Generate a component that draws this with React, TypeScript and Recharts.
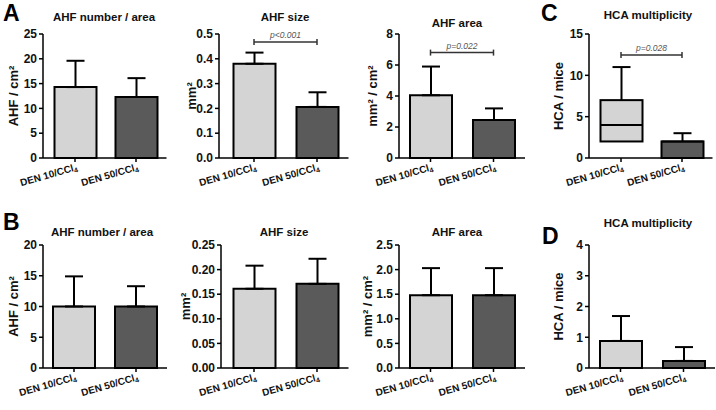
import React from "react";
import { Bar, BarChart, Cell, ErrorBar, ReferenceLine, XAxis, YAxis } from "recharts";

const FONT = "'Liberation Sans', Arial, Helvetica, sans-serif";

const groups = ["DEN 10/CCl4", "DEN 50/CCl4"];
const groupColors = ["#d4d4d4", "#5a5a5a"];

// row A (means and SD)
const ahfNumberA = [14.3, 12.3];
const ahfNumberSdA = [5.3, 3.8];
const ahfSizeA = [0.38, 0.206];
const ahfSizeSdA = [0.045, 0.059];
const ahfAreaA = [4.05, 2.45];
const ahfAreaSdA = [1.85, 0.75];

// C box plot
const hcaMin = [2, 0];
const hcaQ1 = [2, 0];
const hcaMedian = [4, 2];
const hcaQ3 = [7, 2];
const hcaMax = [11, 3];

// row B
const ahfNumberB = [10, 10];
const ahfNumberSdB = [4.9, 3.3];
const ahfSizeB = [0.161, 0.171];
const ahfSizeSdB = [0.047, 0.051];
const ahfAreaB = [1.48, 1.48];
const ahfAreaSdB = [0.55, 0.55];
const hcaMeanD = [0.88, 0.23];
const hcaSdD = [0.81, 0.45];

const ticksA1 = [0, 5, 10, 15, 20, 25];
const ticksA2 = [0, 0.1, 0.2, 0.3, 0.4, 0.5];
const ticksA3 = [0, 2, 4, 6, 8];
const ticksC = [0, 5, 10, 15];
const ticksB1 = [0, 5, 10, 15, 20];
const ticksB2 = [0, 0.05, 0.1, 0.15, 0.2, 0.25];
const ticksB3 = [0, 0.5, 1, 1.5, 2, 2.5];
const ticksD = [0, 1, 2, 3, 4];

const barRows = (mean: number[], sd: number[]) =>
  groups.map((name, i) => ({ name, mean: mean[i], err: [0, sd[i]] }));

const boxRows = groups.map((name, i) => ({
  name,
  box: [hcaQ1[i], hcaQ3[i]],
  min: hcaMin[i],
  median: hcaMedian[i],
  max: hcaMax[i],
}));

const XTick = (props: any) => {
  const { x, y, payload } = props;
  const s = String(payload.value);
  return (
    <g transform={`translate(${x + 3},${y + 6}) rotate(-16)`}>
      <text textAnchor="end" fontFamily={FONT} fontSize={10} fontWeight={700} fill="#111">
        {s.slice(0, -1)}
        <tspan fontSize={7} dy={2}>{s.slice(-1)}</tspan>
      </text>
    </g>
  );
};

const makeBracket = (text: string) => (props: any) => {
  const { x1, y1, x2 } = props;
  return (
    <g>
      <line x1={x1} y1={y1} x2={x2} y2={y1} stroke="#333" strokeWidth={1.5} />
      <line x1={x1} y1={y1 - 3} x2={x1} y2={y1 + 3} stroke="#333" strokeWidth={1.5} />
      <line x1={x2} y1={y1 - 3} x2={x2} y2={y1 + 3} stroke="#333" strokeWidth={1.5} />
      <text x={(x1 + x2) / 2} y={y1 - 4} textAnchor="middle" fontFamily={FONT} fontSize={8.5}
        fontStyle="italic" fill="#555">{text}</text>
    </g>
  );
};

const BoxShape = (props: any) => {
  const { x, y, width, height, payload, fill } = props;
  const [q1, q3] = payload.box;
  const ppu = height / (q3 - q1);
  const yv = (v: number) => y + (q3 - v) * ppu;
  const cx = x + width / 2;
  const cap = 9;
  return (
    <g stroke="#000" strokeWidth={2}>
      <line x1={cx} x2={cx} y1={yv(payload.max)} y2={y} />
      <line x1={cx - cap} x2={cx + cap} y1={yv(payload.max)} y2={yv(payload.max)} />
      {payload.min < q1 && <line x1={cx} x2={cx} y1={y + height} y2={yv(payload.min)} />}
      <rect x={x} y={y} width={width} height={height} fill={fill} />
      <line x1={x} x2={x + width} y1={yv(payload.median)} y2={yv(payload.median)} />
    </g>
  );
};

type PanelProps = {
  axisX: number;
  plotTop: number;
  zeroY: number;
  band: number;
  pad: number;
  data: any[];
  domainMax: number;
  ticks: number[];
  decimals: number;
  yLabel: string;
  labelDx: number;
  bracket?: { y: number; text: string };
  box?: boolean;
};

function Panel(p: PanelProps) {
  const axisW = 62;
  const width = axisW + p.pad + 2 * p.band + 8;
  const height = p.zeroY - p.plotTop + 12 + 44;
  const yLabel = (lp: any) => {
    const vb = lp.viewBox || { x: 0, y: 12, width: axisW, height: p.zeroY - p.plotTop };
    const cx = vb.x + vb.width - p.labelDx;
    const cy = vb.y + vb.height / 2;
    return (
      <text x={cx} y={cy} transform={`rotate(-90, ${cx}, ${cy})`} textAnchor="middle"
        dominantBaseline="central" fontFamily={FONT} fontSize={13} fontWeight={700} fill="#111">
        {p.yLabel}
      </text>
    );
  };
  const axisStyle = { stroke: "#000", strokeWidth: 1.5 };
  return (
    <div style={{ position: "absolute", left: p.axisX - axisW, top: p.plotTop - 12 }}>
      <BarChart width={width} height={height} data={p.data}
        margin={{ top: 12, right: 8, left: 0, bottom: 0 }}>
        <XAxis dataKey="name" height={44} padding={{ left: p.pad, right: 0 }} interval={0}
          tick={<XTick />} tickSize={4} axisLine={axisStyle} tickLine={axisStyle} />
        <YAxis width={axisW} domain={[0, p.domainMax]} ticks={p.ticks} interval={0}
          tickFormatter={(v: number) => v.toFixed(p.decimals)} tickSize={4}
          axisLine={axisStyle} tickLine={axisStyle}
          tick={{ fontFamily: FONT, fontSize: 12, fontWeight: 700, fill: "#111" }}
          label={{ value: p.yLabel, content: yLabel }} />
        {p.box ? (
          <Bar dataKey="box" barSize={42} shape={BoxShape} isAnimationActive={false}>
            {p.data.map((_, i) => <Cell key={i} fill={groupColors[i]} />)}
          </Bar>
        ) : (
          <Bar dataKey="mean" barSize={42} stroke="#000" strokeWidth={2} isAnimationActive={false}>
            {p.data.map((_, i) => <Cell key={i} fill={groupColors[i]} />)}
            <ErrorBar dataKey="err" direction="y" width={9} stroke="#000" strokeWidth={2}
              isAnimationActive={false} />
          </Bar>
        )}
        {p.bracket && (
          <ReferenceLine segment={[{ x: groups[0], y: p.bracket.y }, { x: groups[1], y: p.bracket.y }]}
            shape={makeBracket(p.bracket.text)} />
        )}
      </BarChart>
    </div>
  );
}

const Title = ({ x, y, text }: { x: number; y: number; text: string }) => (
  <div style={{ position: "absolute", left: x, top: y, transform: "translate(-50%, -50%)",
    whiteSpace: "nowrap", fontFamily: FONT, fontSize: 11.5, fontWeight: 700, color: "#111" }}>
    {text}
  </div>
);

const Letter = ({ x, y, text }: { x: number; y: number; text: string }) => (
  <div style={{ position: "absolute", left: x, top: y, fontFamily: FONT, fontSize: 23,
    lineHeight: "26px", fontWeight: 700, color: "#000" }}>
    {text}
  </div>
);

export default function App() {
  const rowA = { plotTop: 34, zeroY: 158 };
  const rowB = { plotTop: 245, zeroY: 368 };
  return (
    <div style={{ position: "absolute", left: 0, top: 0, width: 716, height: 410,
      background: "#fff", overflow: "hidden" }}>
      <Panel {...rowA} axisX={43} band={61} pad={1.5} data={barRows(ahfNumberA, ahfNumberSdA)}
        domainMax={25} ticks={ticksA1} decimals={0} yLabel="AHF / cm²" labelDx={30} />
      <Panel {...rowA} axisX={219} band={63} pad={3.5} data={barRows(ahfSizeA, ahfSizeSdA)}
        domainMax={0.5} ticks={ticksA2} decimals={1} yLabel="mm²" labelDx={28}
        bracket={{ y: 0.468, text: "p<0.001" }} />
      <Panel {...rowA} axisX={399} band={63} pad={0} data={barRows(ahfAreaA, ahfAreaSdA)}
        domainMax={8} ticks={ticksA3} decimals={0} yLabel="mm² / cm²" labelDx={27}
        bracket={{ y: 6.8, text: "p=0.022" }} />
      <Panel {...rowA} axisX={589} band={61} pad={1.5} data={boxRows} box
        domainMax={15} ticks={ticksC} decimals={0} yLabel="HCA / mice" labelDx={31}
        bracket={{ y: 12.45, text: "p=0.028" }} />

      <Panel {...rowB} axisX={43} band={62} pad={0} data={barRows(ahfNumberB, ahfNumberSdB)}
        domainMax={20} ticks={ticksB1} decimals={0} yLabel="AHF / cm²" labelDx={30} />
      <Panel {...rowB} axisX={221} band={63} pad={1.5} data={barRows(ahfSizeB, ahfSizeSdB)}
        domainMax={0.25} ticks={ticksB2} decimals={2} yLabel="mm²" labelDx={36} />
      <Panel {...rowB} axisX={399} band={63} pad={0} data={barRows(ahfAreaB, ahfAreaSdB)}
        domainMax={2.5} ticks={ticksB3} decimals={1} yLabel="mm² / cm²" labelDx={32} />
      <Panel {...rowB} axisX={589} band={63} pad={0} data={barRows(hcaMeanD, hcaSdD)}
        domainMax={4} ticks={ticksD} decimals={0} yLabel="HCA / mice" labelDx={31} />

      <Title x={104} y={17} text="AHF number / area" />
      <Title x={285} y={17} text="AHF size" />
      <Title x={457} y={23} text="AHF area" />
      <Title x={648} y={15} text="HCA multiplicity" />
      <Title x={102} y={232} text="AHF number / area" />
      <Title x={284} y={232} text="AHF size" />
      <Title x={457} y={232} text="AHF area" />
      <Title x={648} y={223} text="HCA multiplicity" />

      <Letter x={3} y={0} text="A" />
      <Letter x={3} y={209} text="B" />
      <Letter x={541} y={0} text="C" />
      <Letter x={542} y={223} text="D" />
    </div>
  );
}
